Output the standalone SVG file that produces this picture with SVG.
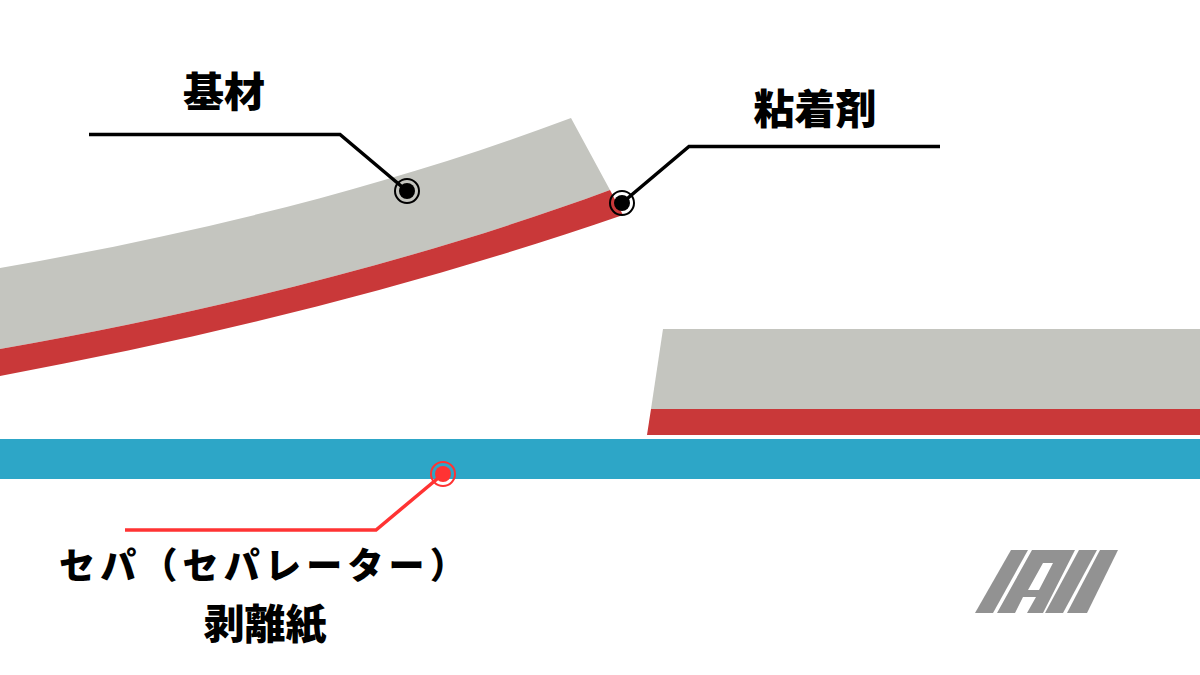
<svg xmlns="http://www.w3.org/2000/svg" width="1200" height="675" viewBox="0 0 1200 675">
<style>
.t{font-family:"Noto Sans CJK JP","Noto Sans CJK SC",sans-serif;font-weight:900;font-size:41px;fill:#000;text-anchor:middle}
.kana{font-size:36px;letter-spacing:5.2px;text-anchor:start}
.k{fill:none;stroke:#000;stroke-width:3.5}
.r{fill:none;stroke:#ff3333;stroke-width:3.5}
.base{fill:#c4c5bf}
.adh{fill:#c93839}
.logo{fill:#929292}
.ring{fill:none;stroke-width:2}
</style>
<rect width="1200" height="675" fill="#fff"/>
<g id="tape-lifted">
<path class="base" d="M0 268C200 233 390 186 571 118L610 190C420 260 210 312 0 349Z"/>
<path class="adh" d="M0 349C210 312 420 260 610 190L623 215C420 285 210 337 0 376Z"/>
</g>
<g id="tape-flat">
<path class="base" d="M663 329H1200V409H651Z"/>
<path class="adh" d="M651 409H1200V435H647Z"/>
</g>
<rect id="separator" x="0" y="439" width="1200" height="40" fill="#2da6c7"/>
<g id="connectors">
<path class="k" d="M89 134.500H340L407 191"/>
<path class="k" d="M940 146.500H689L622 203"/>
<path class="r" d="M125 530H376L443 474"/>
</g>
<g id="node-base">
<circle cx="407" cy="191" r="8"/><circle class="ring" cx="407" cy="191" r="12" stroke="#000"/>
<text class="t" x="224" y="107">基材</text>
</g>
<g id="node-adhesive">
<circle cx="622" cy="203" r="8"/><circle class="ring" cx="622" cy="203" r="12" stroke="#000"/>
<text class="t" x="815" y="124">粘着剤</text>
</g>
<g id="node-separator">
<circle cx="443" cy="474" r="8" fill="#ff3333"/><circle class="ring" cx="443" cy="474" r="12" stroke="#ff3333"/>
<text class="t kana" x="59" y="579">セパ（セパレーター）</text>
<text class="t" x="265" y="639">剥離紙</text>
</g>
<g id="logo">
<path class="logo" d="M1011 550H1028L993 613H975Z"/>
<path class="logo" fill-rule="evenodd" d="M1032 550H1075L1043 613H1027L1036 597H1023L1015 613H997ZM1043 563 1028 590H1039L1053 563Z"/>
<path class="logo" d="M1079 550H1097L1063 613H1045Z"/>
<path class="logo" d="M1100 550H1118L1087 613H1067Z"/>
</g>
</svg>
